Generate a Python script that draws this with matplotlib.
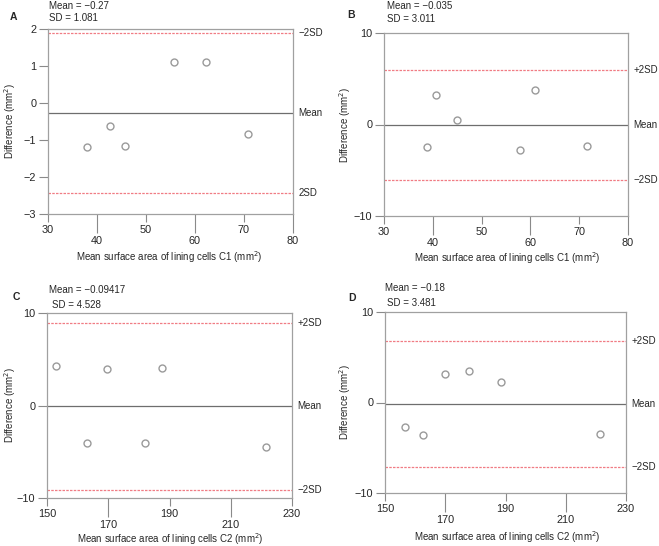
import matplotlib
matplotlib.use("Agg")
import matplotlib.pyplot as plt

plt.rcParams['font.family'] = ['Liberation Sans', 'DejaVu Sans']
plt.rcParams['text.color'] = '#262626'
plt.rcParams['xtick.labelcolor'] = '#262626'
plt.rcParams['ytick.labelcolor'] = '#262626'

W, H = 659, 546

# panel A
a_x = [38.0, 42.6, 45.8, 55.7, 62.3, 70.8]
a_y = [-1.18, -0.62, -1.17, 1.10, 1.10, -0.83]
a_lines = [1.89, -0.27, -2.43]
a_labels = ['\u22122SD', 'Mean', '2SD']
a_stats = ['Mean = \u22120.27', 'SD = 1.081']

# panel B
b_x = [38.8, 40.6, 45.0, 57.8, 61.0, 71.5]
b_y = [-2.5, 3.2, 0.5, -2.8, 3.8, -2.3]
b_lines = [5.99, -0.035, -6.06]
b_labels = ['+2SD', 'Mean', '\u22122SD']
b_stats = ['Mean = \u22120.035', 'SD = 3.011']

# panel C
c_x = [153.0, 163.0, 169.5, 182.0, 187.5, 221.5]
c_y = [4.3, -4.1, 4.0, -4.0, 4.1, -4.5]
c_lines = [8.96, -0.094, -9.15]
c_labels = ['+2SD', 'Mean', '\u22122SD']
c_stats = ['Mean = \u22120.09417', 'SD = 4.528']

# panel D
d_x = [156.5, 162.5, 170.0, 178.0, 188.5, 221.5]
d_y = [-2.7, -3.6, 3.1, 3.5, 2.3, -3.5]
d_lines = [6.78, -0.18, -7.14]
d_labels = ['+2SD', 'Mean', '\u22122SD']
d_stats = ['Mean = \u22120.18', 'SD = 3.481']

GREY = '#8a8a8a'
RED = '#f07c84'
FS = 7
TFS = 7.8


def fx(x):
    return x / W


def fy(y):
    return 1 - y / H


def panel(fig, box, xs, ys, lines, labels, xlim, ylim, xt_up, xt_down, yticks):
    l, t, r, b = box
    ax = fig.add_axes([fx(l), fy(b), fx(r - l), (b - t) / H])
    ax.plot(xs, ys, 'o', ms=5, mfc='none', mec='#9a9a9a', mew=1.0, zorder=3)
    ax.axhline(lines[1], color='#6e6e6e', lw=0.9)
    ax.axhline(lines[0], color=RED, lw=0.9, ls=(0, (2, 1)))
    ax.axhline(lines[2], color=RED, lw=0.9, ls=(0, (2, 1)))
    for v, s in zip(lines, labels):
        ax.text(1.022, v, s, transform=ax.get_yaxis_transform(), ha='left', va='center',
                fontsize=FS)
    ax.set_xlim(*xlim)
    ax.set_ylim(*ylim)
    ax.set_yticks(yticks)
    # staggered x labels: alternate ticks get a long mark and a lower label
    ax.set_xticks(xt_up)
    ax.set_xticks(xt_down, minor=True)
    ax.set_xticklabels([str(v) for v in xt_down], minor=True)
    ax.tick_params(axis='y', which='major', length=6.5, width=0.8, color=GREY, labelsize=TFS, pad=2)
    ax.tick_params(axis='x', which='major', length=6, width=0.8, color=GREY, labelsize=TFS, pad=2)
    ax.tick_params(axis='x', which='minor', length=14, width=0.8, color=GREY, labelsize=TFS, pad=2)
    for sp in ax.spines.values():
        sp.set_color('#a0a0a0')
        sp.set_linewidth(0.9)
    return ax


fig = plt.figure(figsize=(W / 100, H / 100), dpi=100)

panel(fig, (48, 29, 293, 214), a_x, a_y, a_lines, a_labels, (30, 80), (-3, 2),
      [30, 50, 70], [40, 60, 80], [-3, -2, -1, 0, 1, 2])
panel(fig, (384, 33, 628, 216), b_x, b_y, b_lines, b_labels, (30, 80), (-10, 10),
      [30, 50, 70], [40, 60, 80], [-10, 0, 10])
panel(fig, (47, 313, 292, 498), c_x, c_y, c_lines, c_labels, (150, 230), (-10, 10),
      [150, 190, 230], [170, 210], [-10, 0, 10])
panel(fig, (385, 312, 626, 493), d_x, d_y, d_lines, d_labels, (150, 230), (-10, 10),
      [150, 190, 230], [170, 210], [-10, 0, 10])

# panel letters, stats and axis titles
letters = [('A', 10, 17), ('B', 347, 15), ('C', 13, 297), ('D', 348, 298)]
for s, x, y in letters:
    fig.text(fx(x), fy(y), s, fontsize=FS + 0.5, fontweight='bold', ha='left', va='center')

stats = [(a_stats, 49, 6, 49, 18), (b_stats, 387, 6, 387, 19),
         (c_stats, 49, 290, 52, 305), (d_stats, 385, 288, 387, 303)]
for (m, s), x1, y1, x2, y2 in stats:
    fig.text(fx(x1), fy(y1), m, fontsize=FS, ha='left', va='center')
    fig.text(fx(x2), fy(y2), s, fontsize=FS, ha='left', va='center')

xlabels = [('Mean surface area of lining cells C1 (mm$^2$)', 169, 257),
           ('Mean surface area of lining cells C1 (mm$^2$)', 507, 258),
           ('Mean surface area of lining cells C2 (mm$^2$)', 170, 539),
           ('Mean surface area of lining cells C2 (mm$^2$)', 507, 537)]
for s, x, y in xlabels:
    fig.text(fx(x), fy(y), s, fontsize=FS, ha='center', va='center')

ylabels = [(10, 121), (345, 125), (10, 405), (345, 402)]
for x, y in ylabels:
    fig.text(fx(x), fy(y), 'Difference (mm$^2$)', fontsize=FS, rotation=90,
             ha='center', va='center')

fig.savefig('out.png', dpi=100)
